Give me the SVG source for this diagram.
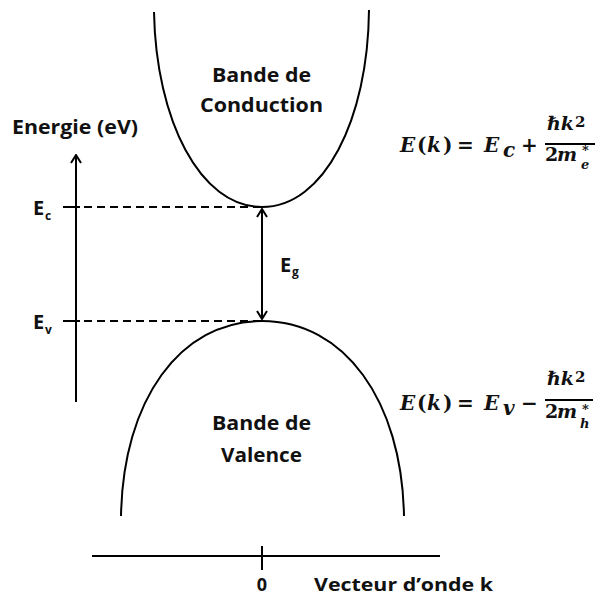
<svg xmlns="http://www.w3.org/2000/svg" width="598" height="598" viewBox="0 0 598 598">
<style>
.lbl{font-family:"Open Sans","Liberation Sans",sans-serif;font-weight:700;fill:#111}
.sub{font-family:"Open Sans","Liberation Sans",sans-serif;font-weight:700;fill:#111}
.m{font-family:"DejaVu Serif","Liberation Serif",serif;font-weight:700;fill:#111;font-size:20px}
.f{font-size:19px}
.p{font-size:15px}
.s{font-size:13px}
.mi{font-style:italic}
.ln{stroke:#000;stroke-width:2;fill:none}
.dash{stroke:#000;stroke-width:2;fill:none;stroke-dasharray:8 5}
</style>
<defs>
<marker id="open" viewBox="0 0 10 12" refX="9" refY="6" markerWidth="10" markerHeight="12" markerUnits="userSpaceOnUse" orient="auto-start-reverse">
<path d="M1,1 L9,6 L1,11" fill="none" stroke="#000" stroke-width="2"/>
</marker>
</defs>
<rect width="598" height="598" fill="#fff"/>

<g id="conduction-band">
<path class="ln" d="M154,12 C156,120 200,207 262,207 C324,207 368,120 369,10"/>
<text class="lbl" x="212" y="82" font-size="19" textLength="99" lengthAdjust="spacingAndGlyphs">Bande de</text>
<text class="lbl" x="200" y="112" font-size="19" textLength="123" lengthAdjust="spacingAndGlyphs">Conduction</text>
</g>

<g id="valence-band">
<path class="ln" d="M121,516 C123,400 180,321 262,321 C344,321 402,400 404,516"/>
<text class="lbl" x="212" y="430" font-size="19" textLength="99" lengthAdjust="spacingAndGlyphs">Bande de</text>
<text class="lbl" x="221" y="462" font-size="19" textLength="81" lengthAdjust="spacingAndGlyphs">Valence</text>
</g>

<g id="energy-axis">
<text class="lbl" x="12" y="134" font-size="19" textLength="126" lengthAdjust="spacingAndGlyphs">Energie (eV)</text>
</g>

<g id="Ec-label">
<text class="lbl" x="33" y="215" font-size="20">E</text>
<text class="sub" x="45" y="220" font-size="12">c</text>
</g>
<g id="Ev-label">
<text class="lbl" x="33" y="329" font-size="20">E</text>
<text class="sub" x="45" y="334" font-size="12">v</text>
</g>
<g id="Eg-label">
<text class="lbl" x="280" y="272" font-size="20">E</text>
<text class="sub" x="292" y="276" font-size="12">g</text>
</g>

<g id="k-axis">
<text class="lbl" x="262" y="591" font-size="18" text-anchor="middle">0</text>
<text class="lbl" x="314" y="591" font-size="18" textLength="179" lengthAdjust="spacingAndGlyphs">Vecteur d’onde k</text>
</g>

<g id="eq-conduction">
<text class="m mi" x="400" y="152">E</text>
<text class="m" x="417" y="152">(</text>
<text class="m mi" x="427" y="152">k</text>
<text class="m" x="443" y="152">)</text>
<text class="m" x="457" y="152">=</text>
<text class="m mi" x="484" y="152">E</text>
<text class="m mi" x="503" y="157" font-size="13">c</text>
<text class="m" x="521" y="152">+</text>
<line class="ln" x1="545" y1="144" x2="595" y2="144" stroke-width="1.5"/>
<text class="m mi f" x="547" y="130">ℏk</text>
<text class="m p" x="575" y="127">2</text>
<text class="m f" x="545" y="161">2</text>
<text class="m mi f" x="557" y="161">m</text>
<text class="m s" x="582" y="155">*</text>
<text class="m mi s" x="581" y="169">e</text>
</g>

<g id="eq-valence">
<text class="m mi" x="400" y="410">E</text>
<text class="m" x="417" y="410">(</text>
<text class="m mi" x="427" y="410">k</text>
<text class="m" x="443" y="410">)</text>
<text class="m" x="457" y="410">=</text>
<text class="m mi" x="484" y="410">E</text>
<text class="m mi" x="503" y="415" font-size="13">v</text>
<text class="m" x="521" y="410">−</text>
<line class="ln" x1="545" y1="400" x2="593" y2="400" stroke-width="1.5"/>
<text class="m mi f" x="547" y="385">ℏk</text>
<text class="m p" x="575" y="382">2</text>
<text class="m f" x="545" y="418">2</text>
<text class="m mi f" x="557" y="418">m</text>
<text class="m s" x="582" y="414">*</text>
<text class="m mi s" x="580" y="428">h</text>
</g>

<g id="connectors">
<line class="ln" x1="76" y1="402" x2="76" y2="155" marker-end="url(#open)"/>
<line class="ln" x1="63" y1="207" x2="80" y2="207"/>
<line class="dash" x1="84" y1="207" x2="262" y2="207"/>
<line class="ln" x1="63" y1="321" x2="80" y2="321"/>
<line class="dash" x1="84" y1="321" x2="262" y2="321"/>
<line class="ln" x1="262" y1="209" x2="262" y2="319" marker-start="url(#open)" marker-end="url(#open)"/>
<line class="ln" x1="92" y1="556" x2="440" y2="556"/>
<line class="ln" x1="262" y1="546" x2="262" y2="570"/>
</g>
</svg>
